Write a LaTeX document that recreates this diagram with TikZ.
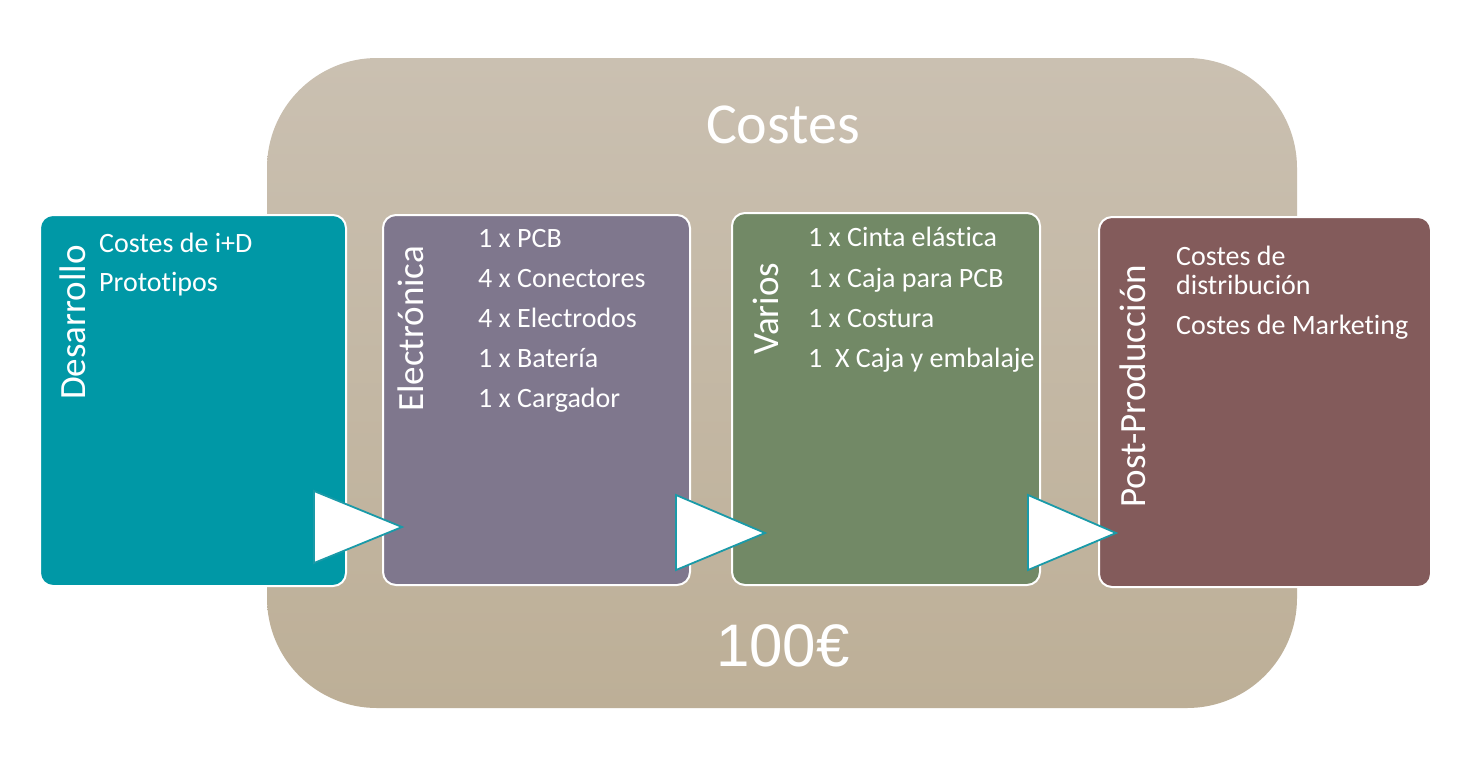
\documentclass[tikz,border=0pt]{standalone}
\usepackage{fontspec}
\setmainfont{Carlito}[Ligatures={NoCommon,NoContextual}]
\newfontfamily\arialfont{Liberation Sans}
\definecolor{bgtop}{HTML}{CAC0B1}
\definecolor{bgbot}{HTML}{BDAF97}
\definecolor{cteal}{HTML}{0098A6}
\definecolor{cpurple}{HTML}{7F778D}
\definecolor{cgreen}{HTML}{728966}
\definecolor{cbrown}{HTML}{835B5B}
\definecolor{triline}{HTML}{1A9AA8}
\tikzset{
  stagebox/.style={draw=white, line width=2pt, rounded corners=13pt, inner sep=0pt},
  stagelabel/.style={text=white, rotate=90, anchor=base west, inner sep=0pt, font=\fontsize{37}{40}\selectfont},
  itemtext/.style={text=white, anchor=base west, inner sep=0pt, font=\fontsize{28}{40}\selectfont},
  flowtri/.style={fill=white, draw=triline, line width=1.8pt, line join=miter},
}
\begin{document}
\begin{tikzpicture}[x=1pt,y=-1pt]
\useasboundingbox (0,0) rectangle (1467,756);
\fill[white] (0,0) rectangle (1467,756);
% background
\node[rounded corners=110pt, top color=bgtop, bottom color=bgbot, minimum width=1030pt, minimum height=650pt, inner sep=0pt] (costes) at (782,383) {};
\node[text=white, font=\fontsize{58}{60}\selectfont] (title) at (783,125) {Costes};
\node[text=white, font={\arialfont\fontsize{60}{62}\selectfont}] (price) at (783,646) {100€};
% boxes
\node[stagebox, fill=cteal, minimum width=306pt, minimum height=371pt] (des) at (193,400.5) {};
\node[stagebox, fill=cpurple, minimum width=307pt, minimum height=370pt] (ele) at (536.5,400) {};
\node[stagebox, fill=cgreen, minimum width=308pt, minimum height=372pt] (var) at (886,399) {};
\node[stagebox, fill=cbrown, minimum width=332pt, minimum height=370pt] (post) at (1265,402) {};
% stage labels
\node[stagelabel] (desl) at (85,400) {Desarrollo};
\node[stagelabel] (elel) at (423,412) {Electrónica};
\node[stagelabel] (varl) at (778,355) {Varios};
\node[stagelabel] (postl) at (1145,508) {Post-Producción};
% items
\node[itemtext] (d1) at (99,252) {Costes de i+D};
\node[itemtext] (d2) at (99,291) {Prototipos};
\node[itemtext] (e1) at (478,247) {1 x PCB};
\node[itemtext] (e2) at (478,287) {4 x Conectores};
\node[itemtext] (e3) at (478,327) {4 x Electrodos};
\node[itemtext] (e4) at (478,367) {1 x Batería};
\node[itemtext] (e5) at (478,407) {1 x Cargador};
\node[itemtext] (v1) at (808,246) {1 x Cinta elástica};
\node[itemtext] (v2) at (808,287) {1 x Caja para PCB};
\node[itemtext] (v3) at (808,327) {1 x Costura};
\node[itemtext] (v4) at (808,367) {1\ \ X Caja y embalaje};
\node[itemtext] (p1) at (1176,265) {Costes de};
\node[itemtext] (p2) at (1176,294) {distribución};
\node[itemtext] (p3) at (1176,334) {Costes de Marketing};
% flow triangles
\draw[flowtri] (314,491) -- (402,527) -- (314,563) -- cycle;
\draw[flowtri] (676,495) -- (765,533) -- (676,570) -- cycle;
\draw[flowtri] (1028,495) -- (1116,533) -- (1028,570) -- cycle;
\end{tikzpicture}
\end{document}
